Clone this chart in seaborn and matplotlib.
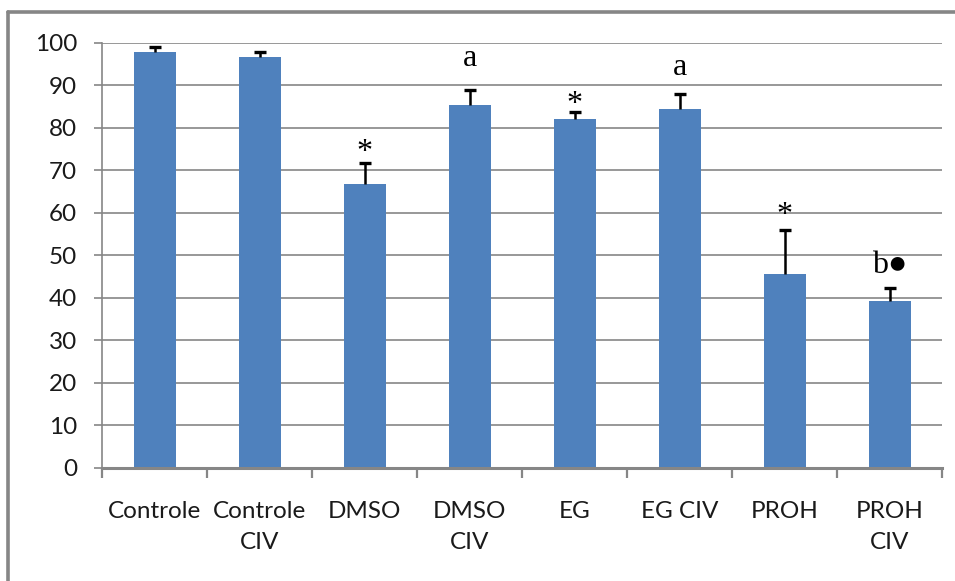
import matplotlib
matplotlib.use("Agg")
import matplotlib.pyplot as plt
from matplotlib.lines import Line2D
from matplotlib.ticker import FixedLocator, MultipleLocator
import seaborn as sns
import pandas as pd
import numpy as np

# Viability (%) per treatment group
categories = ["Controle", "Controle\nCIV", "DMSO", "DMSO\nCIV", "EG", "EG CIV", "PROH", "PROH\nCIV"]
means = [97.8, 96.6, 66.7, 85.3, 82.1, 84.4, 45.6, 39.3]
errors = [1.2, 1.2, 4.9, 3.6, 1.6, 3.5, 10.3, 3.1]

# Significance marks above the bars (group index, label, baseline height)
mark_idx = [2, 3, 4, 5, 6, 7]
mark_text = ["*", "a", "*", "a", "*", "b\u25cf"]
mark_y = [72.4, 94.5, 83.8, 92.4, 57.6, 45.8]

W, H = 955, 581
sns.set_theme(style="white")
plt.rcParams["font.family"] = ["Lato", "DejaVu Sans"]

fig = plt.figure(figsize=(W / 100, H / 100), dpi=100)
ax = fig.add_axes([102 / W, 1 - 468 / H, (942 - 102) / W, (468 - 42.7) / H])

df = pd.DataFrame({"group": categories, "value": means})
bar_color = "#4F81BD"
sns.barplot(data=df, x="group", y="value", color=bar_color, width=0.4,
            saturation=1, errorbar=None, ax=ax, zorder=3)
for p in ax.patches:
    p.set_edgecolor("none")

# Upper-only error bars
x = np.arange(len(categories))
_, caps, _ = ax.errorbar(x, means, yerr=[np.zeros(len(errors)), errors], fmt="none",
                         ecolor="black", elinewidth=1.8, capsize=4, capthick=2.4, zorder=4)
caps[0].set_visible(False)

grid_color = "#868686"
ax.set_ylim(0, 100)
ax.set_xlim(-0.5, len(categories) - 0.5)
ax.yaxis.set_major_locator(MultipleLocator(10))
ax.yaxis.grid(True, color=grid_color, linewidth=1.2, zorder=0)
ax.set_axisbelow(True)

for side in ["top", "right"]:
    ax.spines[side].set_visible(False)
ax.spines["left"].set_color(grid_color)
ax.spines["left"].set_linewidth(1.2)
ax.spines["bottom"].set_color(grid_color)
ax.spines["bottom"].set_linewidth(2.2)
ax.spines["bottom"].set_zorder(5)

text_color = "#1a1a1a"
ax.set_xlabel("")
ax.set_ylabel("")
ax.set_xticks(x)
ax.set_xticklabels(categories, linespacing=1.55, fontsize=17.5, color=text_color)
ax.xaxis.set_minor_locator(FixedLocator(np.arange(-0.5, len(categories), 1.0)))
ax.tick_params(axis="x", which="major", length=0, pad=24)
ax.tick_params(axis="x", which="minor", length=7.5, width=1.6, color=grid_color, direction="out")
ax.tick_params(axis="y", which="major", length=6, width=1.2, color=grid_color,
               direction="out", labelsize=17.5, labelcolor=text_color, pad=12)
ax.tick_params(left=True, bottom=True)
ax.xaxis.set_tick_params(which="minor", bottom=True)

for i, t, yv in zip(mark_idx, mark_text, mark_y):
    ax.text(i, yv, t, ha="center", va="baseline", fontsize=23,
            family=["Liberation Serif", "DejaVu Sans"], color="black", zorder=6)

# Outer chart frame (left and top edges)
frame_kw = dict(color=grid_color, linewidth=2.6, transform=fig.transFigure)
fig.add_artist(Line2D([8 / W, 8 / W], [0, 1 - 12 / H], **frame_kw))
fig.add_artist(Line2D([8 / W, 1], [1 - 12 / H, 1 - 12 / H], **frame_kw))

fig.savefig("out.png", dpi=100, facecolor="white")
